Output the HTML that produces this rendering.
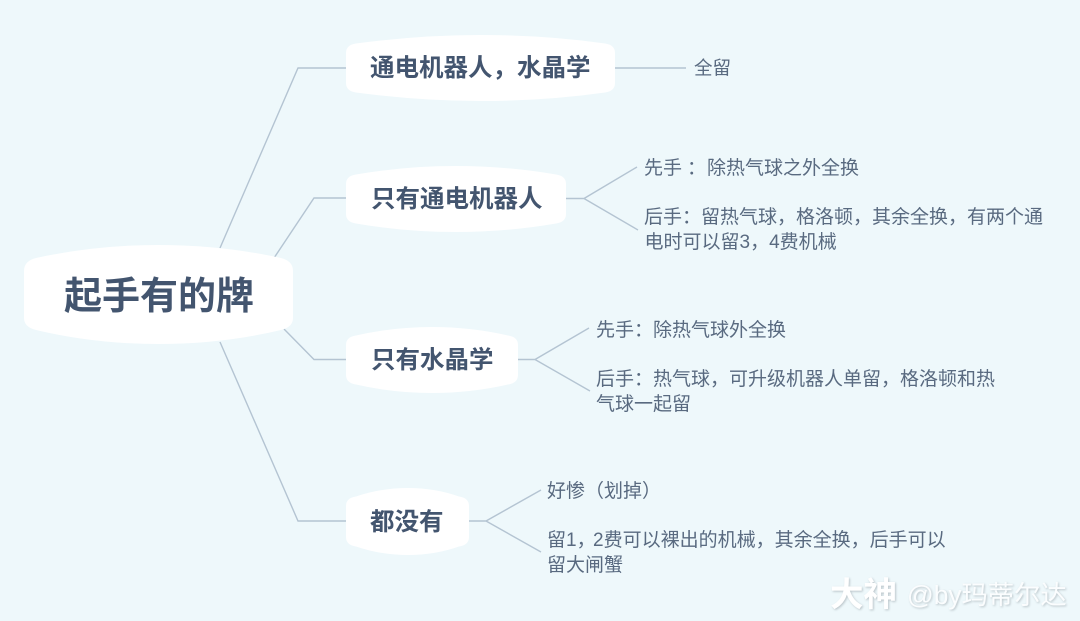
<!DOCTYPE html>
<html><head><meta charset="utf-8">
<style>
html,body{margin:0;padding:0;background:#eef8fb;}
svg{display:block;}
text{font-family:"Liberation Sans","Noto Sans CJK SC",sans-serif;}
.b{font-weight:700;fill:#43556f;font-size:24.5px;}
.t{fill:#596a80;font-size:19px;}
.l{fill:none;stroke:#b4c4d2;stroke-width:1.4;}
.n{fill:#fff;}
.w{fill:#fff;filter:drop-shadow(1px 1px 1px rgba(90,100,110,.35));}
</style></head><body>
<svg width="1080" height="621" viewBox="0 0 1080 621" xmlns="http://www.w3.org/2000/svg">
<rect width="1080" height="621" fill="#eef8fb"/>
<path class="l" d="M220 248L298 68H346M274 258L314 198H346M284 329L314 359.500H346M220 342L298 521H346"/>
<path class="l" d="M615 68H686"/>
<path class="l" d="M566 198.500H584L637 167M584 198.500L638 230"/>
<path class="l" d="M518 359.500H535L589 328M535 359.500L590 391"/>
<path class="l" d="M469 521H486L541 490M486 521L541 552"/>
<path class="n" d="M36 258Q95 245 158 245Q222 245 281 258Q293 261 293 271V318Q293 327 281 330Q222 344 158 344Q95 344 36 330Q24 327 24 318V271Q24 261 36 258Z"/>
<path class="n" d="M356 43.500Q420 35 480 35Q545 35 605 43.500Q615 45 615 53V83Q615 91 605 92.500Q545 101 480 101Q420 101 356 92.500Q346 91 346 83V53Q346 45 356 43.500Z"/>
<path class="n" d="M356 174.500Q405 166 456 166Q507 166 556 174.500Q566 176 566 184V214Q566 222 556 223.500Q507 232 456 232Q405 232 356 223.500Q346 222 346 214V184Q346 176 356 174.500Z"/>
<path class="n" d="M356 335.500Q393 327 432 327Q471 327 508 335.500Q518 337 518 345V375Q518 383 508 384.500Q471 393 432 393Q393 393 356 384.500Q346 383 346 375V345Q346 337 356 335.500Z"/>
<path class="n" d="M356 496.500Q381 488 408 488Q435 488 459 496.500Q469 498 469 506V537Q469 545 459 546.500Q435 555 408 555Q381 555 356 546.500Q346 545 346 537V506Q346 498 356 496.500Z"/>
<text x="64" y="309" style="font-size:38px;font-weight:700;fill:#43556f">起手有的牌</text>
<text class="b" x="370" y="76">通电机器人，水晶学</text>
<text class="b" x="371" y="207">只有通电机器人</text>
<text class="b" x="371" y="368">只有水晶学</text>
<text class="b" x="370" y="530">都没有</text>
<text class="t" x="694" y="74.500" style="font-size:18.500px">全留</text>
<text class="t" x="644" y="174">先手</text>
<text class="t" x="687" y="174">：</text>
<text class="t" x="707" y="174">除热气球之外全换</text>
<text class="t" x="644" y="223">后手：留热气球，格洛顿，其余全换，有两个通</text>
<text class="t" x="644.500" y="248">电时可以留3，4费机械</text>
<text class="t" x="596" y="336">先手：除热气球外全换</text>
<text class="t" x="596" y="385">后手：热气球，可升级机器人单留，格洛顿和热</text>
<text class="t" x="596" y="410">气球一起留</text>
<text class="t" x="547" y="497">好惨（划掉）</text>
<text class="t" x="547" y="546">留1，</text>
<text class="t" x="593" y="546">2费可以裸出的机械，其余全换，后手可以</text>
<text class="t" x="547" y="571">留大闸蟹</text>
<text class="w" x="830" y="606" style="font-size:33.500px;font-weight:700">大神</text>
<text class="w" x="907" y="604" style="font-size:26.300px;fill:#fbfdfe">@by玛蒂尔达</text>
</svg>
</body></html>
